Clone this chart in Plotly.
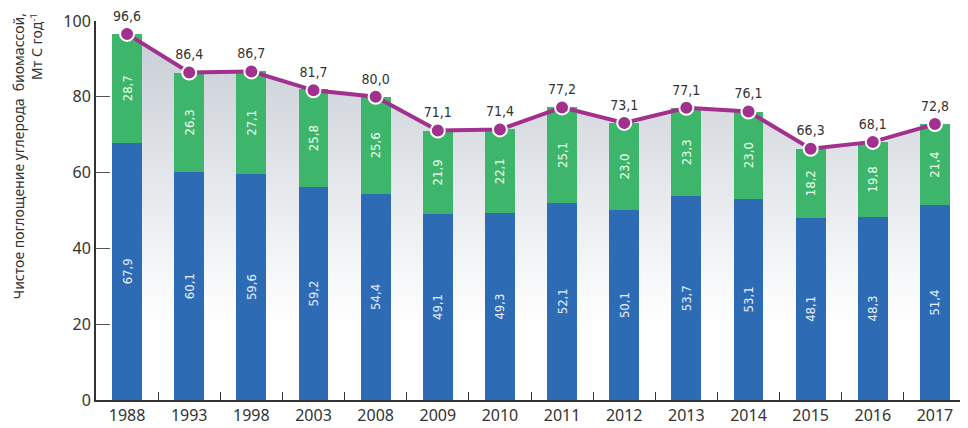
import plotly.graph_objects as go

years = ["1988", "1993", "1998", "2003", "2008", "2009", "2010",
         "2011", "2012", "2013", "2014", "2015", "2016", "2017"]
blue_vals = [67.9, 60.1, 59.6, 56.2, 54.4, 49.1, 49.3, 52.1, 50.1, 53.7, 53.1, 48.1, 48.3, 51.4]
blue_text = [67.9, 60.1, 59.6, 59.2, 54.4, 49.1, 49.3, 52.1, 50.1, 53.7, 53.1, 48.1, 48.3, 51.4]
green_vals = [28.7, 26.3, 27.1, 25.8, 25.6, 21.9, 22.1, 25.1, 23.0, 23.3, 23.0, 18.2, 19.8, 21.4]
total_vals = [96.6, 86.4, 86.7, 81.7, 80.0, 71.1, 71.4, 77.2, 73.1, 77.1, 76.1, 66.3, 68.1, 72.8]


def fmt(v):
    return "{:.1f}".format(v).replace(".", ",")


narrow = "DejaVu Sans Condensed, Liberation Sans Narrow, Roboto, sans-serif"
main_font = "Noto Sans, Open Sans, sans-serif"
x_range = [-0.5, len(years) - 0.5]

fig = go.Figure()

# gray shaded area under the total line (base subplot, drawn below the bars)
fig.add_trace(go.Scatter(
    x=years, y=total_vals,
    xaxis="x", yaxis="y",
    mode="none",
    fill="tozeroy",
    fillgradient=dict(type="vertical", start=0, stop=97,
                      colorscale=[[0, "#ffffff"], [0.22, "#ffffff"], [1, "#c8ced6"]]),
    hoverinfo="skip", showlegend=False,
))

fig.add_trace(go.Bar(
    x=years, y=blue_vals,
    xaxis="x2", yaxis="y2",
    marker=dict(color="#2d6cb5", line=dict(width=0)),
    text=[fmt(v) for v in blue_text],
    textposition="inside", insidetextanchor="middle", textangle=-90,
    textfont=dict(family=narrow, size=13, color="#e4eeff"),
    width=0.48, showlegend=False,
))
fig.add_trace(go.Bar(
    x=years, y=green_vals,
    xaxis="x2", yaxis="y2",
    marker=dict(color="#3db56a", line=dict(width=0)),
    text=[fmt(v) for v in green_vals],
    textposition="inside", insidetextanchor="middle", textangle=-90,
    textfont=dict(family=narrow, size=13, color="#eaffee"),
    width=0.48, showlegend=False,
))

fig.add_trace(go.Scatter(
    x=years, y=total_vals,
    xaxis="x2", yaxis="y2",
    mode="lines+markers+text",
    line=dict(color="#a2318e", width=4),
    marker=dict(size=14, color="#a2318e", line=dict(color="white", width=2)),
    text=[fmt(v) for v in total_vals],
    textposition="top center",
    textfont=dict(family=narrow, size=14, color="#333333"),
    cliponaxis=False, showlegend=False,
))

# page body has an 8px margin, so the figure is sized to the visible area
fig.update_layout(
    width=960, height=420,
    margin=dict(l=88, r=2, t=9, b=27),
    barmode="stack",
    plot_bgcolor="white", paper_bgcolor="white",
    font=dict(family=main_font, size=15, color="#333333"),
    uniformtext=dict(mode="show", minsize=12),
    xaxis=dict(type="category", categoryarray=years, range=x_range, visible=False),
    yaxis=dict(range=[0, 100], visible=False),
    xaxis2=dict(
        type="category", categoryarray=years, range=x_range, overlaying="x", anchor="y2",
        showline=True, linecolor="#333333", linewidth=2,
        ticks="inside", tickson="boundaries", ticklen=8, tickcolor="#333333",
        showgrid=False, tickfont=dict(size=16),
    ),
    yaxis2=dict(
        range=[0, 100], tickvals=[0, 20, 40, 60, 80, 100], overlaying="y", anchor="x2",
        showline=True, linecolor="#333333", linewidth=2,
        ticks="inside", ticklen=14, tickcolor="#555555", ticklabeloverflow="allow",
        showgrid=False, zeroline=False, tickfont=dict(size=16),
    ),
    annotations=[dict(
        text="Чистое поглощение углерода  биомассой,<br>Мт С год<sup>-1</sup>",
        xref="paper", yref="paper", x=-0.102, y=1.025,
        xanchor="left", yanchor="top",
        textangle=-90, align="right", showarrow=False,
        font=dict(family=main_font, size=14, color="#333333"),
    )],
)

fig.write_html("out.html")
